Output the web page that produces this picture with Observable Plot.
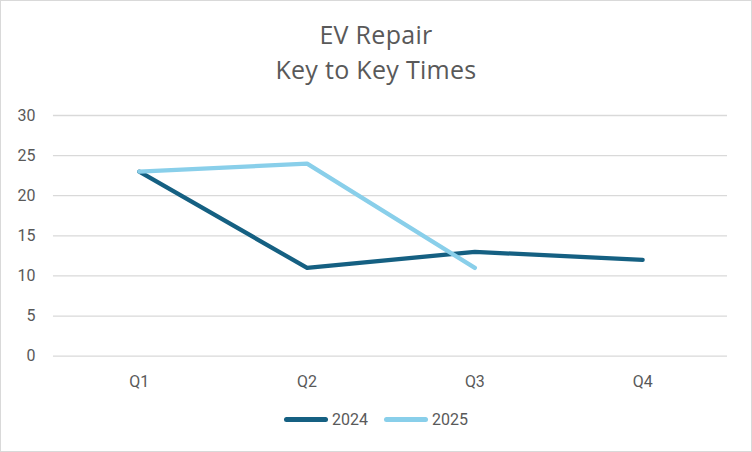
<!DOCTYPE html>
<html>
<head>
<meta charset="utf-8">
<script src="https://cdn.jsdelivr.net/npm/d3@7"></script>
<script src="https://cdn.jsdelivr.net/npm/@observablehq/plot@0.6"></script>
<style>
  html, body { margin: 0; padding: 0; background: #fff; }
  #chart { position: relative; width: 750px; height: 450px; border: 1px solid #d9d9d9; background: #fff; font-family: Roboto, "Liberation Sans", sans-serif; color: #595959; overflow: hidden; }
  #title { position: absolute; left: 0; top: 16px; width: 100%; text-align: center; font-family: "Open Sans", Roboto, sans-serif; font-size: 25px; line-height: 35px; color: #595959; letter-spacing: 0.3px; }
  #plot { position: absolute; left: -1px; top: 98px; }
  #legend { position: absolute; left: 0; top: 409px; width: 100%; display: flex; justify-content: center; align-items: center; font-size: 16px; color: #595959; }
  .item { display: flex; align-items: center; margin: 0 8px; }
  .swatch { width: 44px; height: 4.5px; border-radius: 2.5px; margin-right: 4px; }
</style>
</head>
<body>
<div id="chart">
  <div id="title">EV Repair<br>Key to Key Times</div>
  <div id="plot"></div>
  <div id="legend"></div>
</div>
<script>
const quarters = ["Q1", "Q2", "Q3", "Q4"];
const seriesNames = ["2024", "2025"];
const values2024 = [23, 11, 13, 12];
const values2025 = [23, 24, 11];
const yTicks = [0, 5, 10, 15, 20, 25, 30];
const colors = ["#156082", "#89cfea"];

const rows = [];
values2024.forEach((v, i) => rows.push({ quarter: quarters[i], value: v, series: seriesNames[0] }));
values2025.forEach((v, i) => rows.push({ quarter: quarters[i], value: v, series: seriesNames[1] }));

const chart = Plot.plot({
  width: 752,
  height: 297,
  marginLeft: 53,
  marginRight: 24,
  marginTop: 16,
  marginBottom: 40,
  style: { fontFamily: "Roboto, 'Liberation Sans', sans-serif", fontSize: "16px", color: "#595959", background: "transparent" },
  x: { type: "point", domain: quarters, padding: 0.5, label: null, tickSize: 0, tickPadding: 20 },
  y: { domain: [0, 30], ticks: yTicks, label: null, tickSize: 0, tickPadding: 18 },
  color: { domain: seriesNames, range: colors },
  marks: [
    Plot.ruleY(yTicks, { stroke: "#d9d9d9", strokeWidth: 1.3 }),
    Plot.axisY({ ticks: yTicks, tickSize: 0, tickPadding: 18, label: null }),
    Plot.axisX({ tickSize: 0, tickPadding: 20, label: null }),
    Plot.line(rows, { x: "quarter", y: "value", z: "series", stroke: "series", strokeWidth: 4.3, strokeLinecap: "round", strokeLinejoin: "round" })
  ]
});
document.getElementById("plot").appendChild(chart);

const legend = document.getElementById("legend");
seriesNames.forEach((name, i) => {
  const item = document.createElement("div");
  item.className = "item";
  const sw = document.createElement("div");
  sw.className = "swatch";
  sw.style.background = colors[i];
  const label = document.createElement("span");
  label.textContent = name;
  item.appendChild(sw);
  item.appendChild(label);
  legend.appendChild(item);
});
</script>
</body>
</html>
